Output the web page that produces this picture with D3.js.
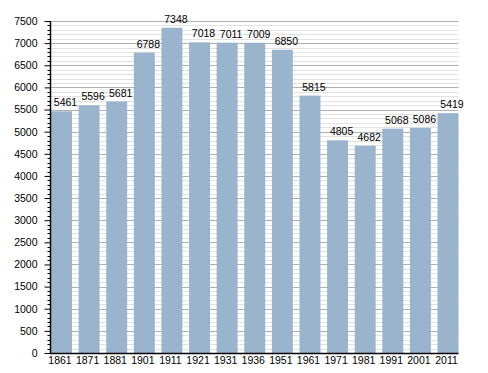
<!DOCTYPE html>
<html><head><meta charset="utf-8">
<script src="https://cdn.jsdelivr.net/npm/d3@7"></script>
<style>body{margin:0;background:#fff;} text{font-family:"Liberation Sans",Arial,sans-serif;}</style>
</head><body><svg id="c" width="488" height="373"></svg>
<script>
const years = ["1861","1871","1881","1901","1911","1921","1931","1936","1951","1961","1971","1981","1991","2001","2011"];
const population = [5461,5596,5681,6788,7348,7018,7011,7009,6850,5815,4805,4682,5068,5086,5419];
const yMajorTicks = [0,500,1000,1500,2000,2500,3000,3500,4000,4500,5000,5500,6000,6500,7000,7500];

const svg = d3.select("#c");
const mLeft = 50.5, mRight = 458.5, mTop = 21, mBottom = 353;
const fs = "10.5px";
const x = d3.scaleBand().domain(years).range([mLeft+0.5, mRight]).paddingInner(0.24).paddingOuter(0);
const y = d3.scaleLinear().domain([0,7500]).range([mBottom, mTop]);

const minor = d3.range(0, 7501, 100).filter(v => v % 500 !== 0);
// minor gridlines
svg.append("g").selectAll("line").data(minor).join("line")
  .attr("x1", mLeft).attr("x2", mRight)
  .attr("y1", d => Math.round(y(d))+0.5).attr("y2", d => Math.round(y(d))+0.5)
  .attr("stroke", "#e2e2e2").attr("stroke-width", 1);
// major gridlines
svg.append("g").selectAll("line").data(yMajorTicks.filter(v=>v>0)).join("line")
  .attr("x1", mLeft).attr("x2", mRight)
  .attr("y1", d => Math.round(y(d))+0.5).attr("y2", d => Math.round(y(d))+0.5)
  .attr("stroke", "#b0b0b0").attr("stroke-width", 1);

// bars
svg.append("g").selectAll("rect").data(population).join("rect")
  .attr("x", (d,i) => x(years[i]))
  .attr("width", x.bandwidth())
  .attr("y", d => y(d))
  .attr("height", d => y(0) - y(d))
  .attr("fill", "#9bb4cd");

// value labels
svg.append("g").selectAll("text").data(population).join("text")
  .attr("x", (d,i) => x(years[i]) + x.bandwidth()/2 + 4)
  .attr("y", d => y(d) - 5)
  .attr("text-anchor", "middle")
  .attr("font-size", fs).attr("fill", "#000")
  .text(d => d);

// y axis minor ticks
svg.append("g").selectAll("line").data(minor).join("line")
  .attr("x1", mLeft-3).attr("x2", mLeft)
  .attr("y1", d => Math.round(y(d))+0.5).attr("y2", d => Math.round(y(d))+0.5)
  .attr("stroke", "#000");
// y axis
const yAxis = d3.axisLeft(y).tickValues(yMajorTicks).tickSize(6).tickPadding(7).tickFormat(d3.format("d"));
const ga = svg.append("g").attr("transform", `translate(${mLeft},0)`).call(yAxis);
ga.select(".domain").attr("stroke","#000").attr("stroke-width",1.5);
ga.selectAll(".tick line").attr("stroke","#000");
ga.selectAll(".tick text").attr("font-size",fs).attr("font-family","Liberation Sans, Arial, sans-serif").attr("fill","#000");
ga.select(".domain").attr("d", `M0,${mTop}V${mBottom+0.5}`);

// x axis
const xAxis = d3.axisBottom(x).tickSize(0).tickPadding(4);
const gx = svg.append("g").attr("transform", `translate(0,${mBottom})`).call(xAxis);
gx.select(".domain").attr("d", `M${mLeft-0.5},0.5H${mRight}`).attr("stroke","#000").attr("stroke-width",1.5);
gx.selectAll(".tick text").attr("x", -1.5).attr("font-size",fs).attr("font-family","Liberation Sans, Arial, sans-serif").attr("fill","#000");
</script></body></html>
